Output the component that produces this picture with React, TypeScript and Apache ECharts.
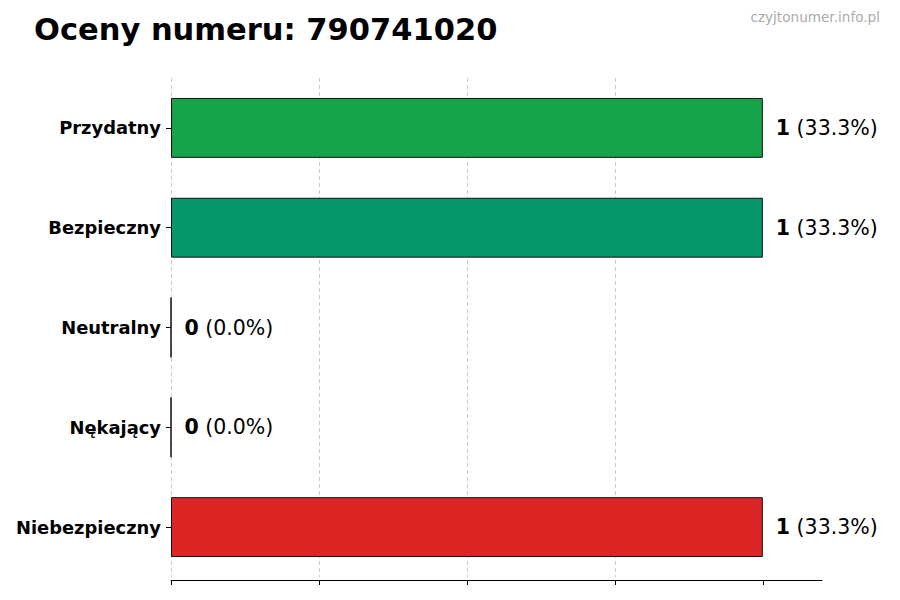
import React, { useEffect, useRef } from "react";
import * as echarts from "echarts";

const categories = ["Przydatny", "Bezpieczny", "Neutralny", "Nękający", "Niebezpieczny"];
const counts = [1, 1, 0, 0, 1];
const barColors = ["#16a34a", "#059669", "#6b7280", "#ea580c", "#dc2626"];
const tickValues = [0, 0.25, 0.5, 0.75, 1];

const total = counts.reduce((a, b) => a + b, 0);

const App = () => {
  const chartRef = useRef<HTMLDivElement>(null);

  useEffect(() => {
    if (!chartRef.current) return;
    const chart = echarts.init(chartRef.current, null, { renderer: "svg" });

    const font = "DejaVu Sans";

    chart.setOption({
      animation: false,
      backgroundColor: "#ffffff",
      textStyle: { fontFamily: font },
      title: [
        {
          text: "Oceny numeru: 790741020",
          left: 34,
          top: 14,
          padding: 0,
          textStyle: { fontFamily: font, fontSize: 30.5, fontWeight: "bold", color: "#000" },
        },
        {
          text: "czyjtonumer.info.pl",
          right: 20,
          top: 10,
          padding: 0,
          textStyle: { fontFamily: font, fontSize: 13.6, fontWeight: "normal", color: "#aaaaaa" },
        },
      ],
      grid: { left: 171, right: 78, top: 78, bottom: 23, containLabel: false },
      xAxis: {
        type: "value",
        min: 0,
        max: 1.1,
        offset: 3,
        axisLine: { show: true, lineStyle: { color: "#000", width: 1 } },
        axisTick: { show: true, length: 5, customValues: tickValues, lineStyle: { color: "#000" } },
        axisLabel: { show: false },
        splitLine: {
          show: true,
          showMaxLine: false,
          lineStyle: { color: "#cccccc", type: [4, 3], width: 1 },
        },
      },
      yAxis: {
        type: "category",
        data: categories,
        inverse: true,
        axisLine: { show: false },
        axisTick: { show: true, alignWithLabel: true, length: 5, lineStyle: { color: "#000" } },
        axisLabel: {
          margin: 10,
          fontFamily: font,
          fontSize: 17.9,
          fontWeight: "bold",
          color: "#000",
        },
        splitLine: { show: false },
      },
      series: [
        {
          type: "bar",
          barWidth: "60%",
          data: counts.map((v, i) => ({
            value: v,
            itemStyle: { color: barColors[i], borderColor: "#111", borderWidth: 1 },
          })),
          label: {
            show: true,
            position: "right",
            distance: 13,
            formatter: (p: any) => {
              const pct = total ? ((p.value / total) * 100).toFixed(1) : "0.0";
              return `{b|${p.value}}{n| (${pct}%)}`;
            },
            rich: {
              b: { fontFamily: font, fontSize: 20.5, fontWeight: "bold", color: "#000" },
              n: { fontFamily: font, fontSize: 20.5, fontWeight: "normal", color: "#000" },
            },
          },
        },
      ],
    });

    return () => {
      chart.dispose();
    };
  }, []);

  return <div ref={chartRef} style={{ width: "900px", height: "600px", margin: "-8px" }} />;
};

export default App;
